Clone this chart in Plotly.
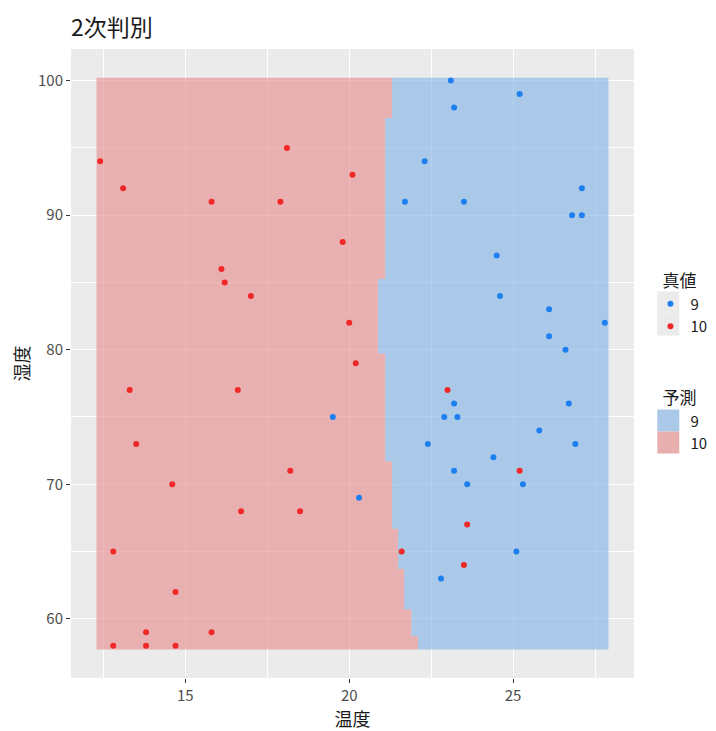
import plotly.graph_objects as go

# ---- observed points (true class) ----
true9_x = [23.1, 25.2, 23.2, 22.3, 21.7, 23.5, 27.1, 26.8, 27.1, 24.5, 24.6, 26.1, 27.8, 26.1, 26.6,
           19.5, 20.3, 23.2, 26.7, 22.9, 23.3, 25.8, 22.4, 26.9, 24.4, 23.2, 23.6, 25.3, 25.1, 22.8]
true9_y = [100, 99, 98, 94, 91, 91, 92, 90, 90, 87, 84, 83, 82, 81, 80,
           75, 69, 76, 76, 75, 75, 74, 73, 73, 72, 71, 70, 70, 65, 63]
true10_x = [12.4, 13.1, 15.8, 17.9, 18.1, 20.1, 19.8, 16.1, 16.2, 17.0, 20.0, 20.2, 13.3, 16.6, 13.5,
            18.2, 14.6, 16.7, 18.5, 12.8, 21.6, 14.7, 13.8, 15.8, 12.8, 13.8, 14.7, 23.0, 25.2, 23.6, 23.5]
true10_y = [94, 92, 91, 91, 95, 93, 88, 86, 85, 84, 82, 79, 77, 77, 73,
            71, 70, 68, 68, 65, 65, 62, 59, 59, 58, 58, 58, 77, 71, 67, 64]

# ---- predicted regions (quadratic discriminant): staircase boundary ----
grid_x_range = [12.29, 27.91]
band_edges_y = [57.72, 58.71, 60.69, 63.72, 66.69, 71.71, 79.71, 85.26, 97.23, 100.22]
boundary_x = [22.10, 21.90, 21.68, 21.49, 21.31, 21.10, 20.88, 21.10, 21.31]

class_labels = ["9", "10"]
point_colors = {"9": "#1E7FF0", "10": "#F02828"}
fill_colors = {"9": "rgba(127,177,230,0.6)", "10": "rgba(230,137,137,0.6)"}
legend_fill = {"9": "#AAC8E8", "10": "#E8AFAF"}

# build staircase polygons from the boundary arrays
stair_x, stair_y = [], []
for i, bx in enumerate(boundary_x):
    stair_x += [bx, bx]
    stair_y += [band_edges_y[i], band_edges_y[i + 1]]

red_x = [grid_x_range[0]] + stair_x + [grid_x_range[0]]
red_y = [band_edges_y[0]] + stair_y + [band_edges_y[-1]]
blue_x = [grid_x_range[1]] + stair_x + [grid_x_range[1]]
blue_y = [band_edges_y[0]] + stair_y + [band_edges_y[-1]]

fig = go.Figure()
fig.add_trace(go.Scatter(x=red_x, y=red_y, mode="lines", fill="toself",
                         fillcolor=fill_colors["10"], line=dict(width=0),
                         showlegend=False, hoverinfo="skip"))
fig.add_trace(go.Scatter(x=blue_x, y=blue_y, mode="lines", fill="toself",
                         fillcolor=fill_colors["9"], line=dict(width=0),
                         showlegend=False, hoverinfo="skip"))

fig.add_trace(go.Scatter(x=true9_x, y=true9_y, mode="markers", name="9",
                         marker=dict(color=point_colors["9"], size=6),
                         legend="legend", legendrank=1))
fig.add_trace(go.Scatter(x=true10_x, y=true10_y, mode="markers", name="10",
                         marker=dict(color=point_colors["10"], size=6),
                         legend="legend", legendrank=2))

for lab in class_labels:
    fig.add_trace(go.Scatter(x=[None], y=[None], mode="markers", name=lab,
                             marker=dict(color=legend_fill[lab], size=21, symbol="square"),
                             legend="legend2"))

font_cjk = "Noto Sans CJK JP"
# page body has an 8px default margin; figure is sized so the page shows 716x731
OFF = 8
W, H = 716 - OFF, 731 - OFF
L, R, T, B = 70.5 - OFF, 82.3, 49.4 - OFF, 52.5
PW, PH = W - L - R, H - T - B

def px_to_paper_x(px):
    return (px - OFF - L) / PW

def px_to_paper_y(py):
    return 1 - (py - OFF - T) / PH

def key_rect(y0, color):
    return dict(type="rect", xref="paper", yref="paper", layer="below",
                x0=px_to_paper_x(657), x1=px_to_paper_x(679),
                y0=px_to_paper_y(y0), y1=px_to_paper_y(y0 + 22),
                fillcolor=color, line=dict(width=0))

# ggplot-style legend key backgrounds
key_shapes = [key_rect(292, "#EBEBEB"), key_rect(314, "#EBEBEB"),
              key_rect(410, legend_fill["9"]), key_rect(432, legend_fill["10"])]

fig.update_layout(
    width=W, height=H,
    margin=dict(l=L, r=R, t=T, b=B, pad=0, autoexpand=False),
    paper_bgcolor="white",
    plot_bgcolor="#EBEBEB",
    font=dict(family=font_cjk, color="#1A1A1A"),
    title=dict(text="2次判別", x=(71 - OFF) / W, xanchor="left", xref="container",
               y=1 - (28 - OFF) / H, yanchor="middle", yref="container",
               font=dict(size=23, color="#1A1A1A", family=font_cjk)),
    legend=dict(title=dict(text="真値", font=dict(size=17)), x=1.047, y=0.656,
                xanchor="left", yanchor="top", font=dict(size=15, color="#1A1A1A"),
                bgcolor="rgba(0,0,0,0)", itemsizing="trace", tracegroupgap=0,
                indentation=-10),
    legend2=dict(title=dict(text="予測", font=dict(size=17)), x=1.047, y=0.47,
                 xanchor="left", yanchor="top", font=dict(size=15, color="#1A1A1A"),
                 bgcolor="rgba(0,0,0,0)", itemsizing="trace", tracegroupgap=0,
                 indentation=-10),
    shapes=key_shapes,
)

fig.update_xaxes(
    range=[11.51, 28.69], tickvals=[15, 20, 25], ticktext=["15", "20", "25"],
    showgrid=True, gridcolor="white", gridwidth=1.2, zeroline=False, showline=False,
    ticks="outside", ticklen=4, tickwidth=1.1, tickcolor="#333333",
    tickfont=dict(size=15, color="#4D4D4D"), automargin=False,
    minor=dict(tickvals=[12.5, 17.5, 22.5, 27.5], showgrid=True, gridcolor="white",
               gridwidth=0.6, ticks=""),
    title=dict(text="温度", font=dict(size=18, color="#1A1A1A"), standoff=0),
)
fig.update_yaxes(
    range=[55.6, 102.35], tickvals=[60, 70, 80, 90, 100],
    showgrid=True, gridcolor="white", gridwidth=1.2, zeroline=False, showline=False,
    ticks="outside", ticklen=4, tickwidth=1.1, tickcolor="#333333",
    tickfont=dict(size=15, color="#4D4D4D"), automargin=False,
    minor=dict(tickvals=[65, 75, 85, 95], showgrid=True, gridcolor="white",
               gridwidth=0.6, ticks=""),
    title=dict(text="湿度", font=dict(size=18, color="#1A1A1A"), standoff=6),
)

fig.write_html("out.html")
